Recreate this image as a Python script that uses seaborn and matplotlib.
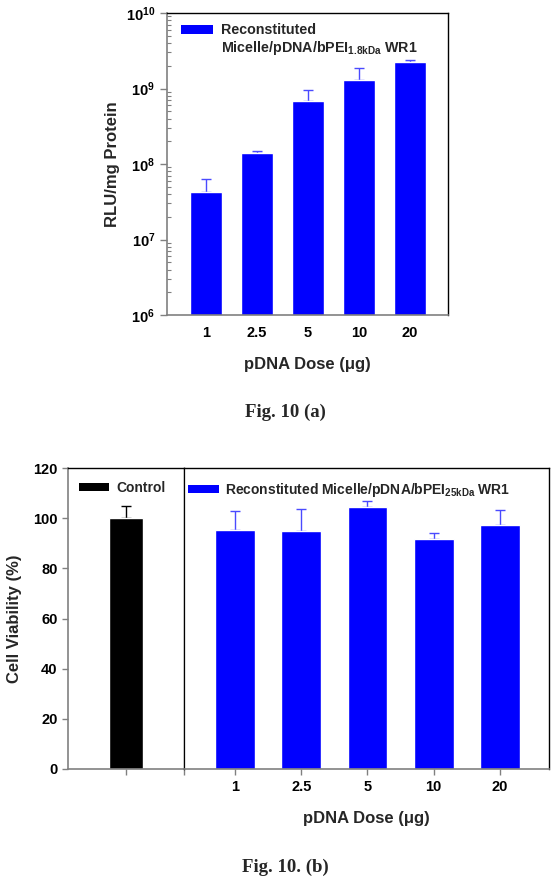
import matplotlib
matplotlib.use("Agg")
import matplotlib.pyplot as plt
import seaborn as sns
import pandas as pd
import numpy as np
from matplotlib.patches import Patch
from matplotlib.ticker import FuncFormatter, LogLocator, NullFormatter

sns.set_theme(style="white")
plt.rcParams['font.family'] = ['Liberation Sans', 'DejaVu Sans']
plt.rcParams['font.weight'] = 'bold'
plt.rcParams['mathtext.fontset'] = 'custom'
plt.rcParams['mathtext.bf'] = 'Liberation Sans:bold'
plt.rcParams['mathtext.rm'] = 'Liberation Sans:bold'
plt.rcParams['mathtext.default'] = 'bf'

# ---------------- data ----------------
doses = ["1", "2.5", "5", "10", "20"]
rlu_mean = [4.3e7, 1.4e8, 6.9e8, 1.3e9, 2.25e9]
rlu_err = [2.0e7, 0.07e8, 2.7e8, 0.55e9, 0.15e9]

control_label = ["Control"]
control_mean = [100.0]
control_err = [4.7]
viab_mean = [95.2, 94.9, 104.4, 91.7, 97.1]
viab_err = [7.8, 8.6, 2.6, 2.4, 6.1]

legend_a = ["Reconstituted", r"Micelle/pDNA/bPEI$_{\mathbf{1.8kDa}}$ WR1"]
legend_b_ctrl = "Control"
legend_b = r"Reconstituted Micelle/pDNA/bPEI$_{\mathbf{25kDa}}$ WR1"

BLUE = "#0000FF"
ERRBLUE = "#4a4aff"
GREY = "#808080"

W, H = 557, 882
fig = plt.figure(figsize=(W / 100, H / 100), dpi=100)

def style_axes(ax):
    for s in ["top", "right"]:
        ax.spines[s].set_color("black")
        ax.spines[s].set_linewidth(1.0)
    for s in ["left", "bottom"]:
        ax.spines[s].set_color(GREY)
        ax.spines[s].set_linewidth(1.2)
    ax.tick_params(axis="both", colors="black", labelsize=10.5)
    ax.tick_params(axis="both", which="both", color=GREY)

def add_errbars(ax, means, errs, color):
    xs = [p.get_x() + p.get_width() / 2 for p in ax.patches]
    lower = np.zeros(len(errs))
    ax.errorbar(xs, means, yerr=[lower, errs], fmt="none", ecolor=color,
                elinewidth=1.0, capsize=3.5, capthick=1.0, zorder=1)

# ---------------- Fig 10 (a) ----------------
ax1 = fig.add_axes([167 / W, 1 - 315 / H, (448 - 167) / W, (315 - 13) / H])
df_a = pd.DataFrame({"dose": doses, "rlu": rlu_mean})
ax1.set_yscale("log")
sns.barplot(data=df_a, x="dose", y="rlu", color=BLUE, saturation=1, width=0.63,
            errorbar=None, ax=ax1, zorder=2)
add_errbars(ax1, rlu_mean, rlu_err, ERRBLUE)
for p in ax1.patches:
    p.set_zorder(2)
ax1.set_ylim(1e6, 1e10)
ax1.set_xlim(-0.76, 4.75)
style_axes(ax1)
ax1.yaxis.set_major_locator(LogLocator(base=10, numticks=10))
ax1.yaxis.set_minor_locator(LogLocator(base=10, subs=np.arange(2, 10), numticks=20))
ax1.yaxis.set_minor_formatter(NullFormatter())
ax1.yaxis.set_major_formatter(FuncFormatter(lambda v, pos: r"$\mathbf{10^{%d}}$" % int(round(np.log10(v)))))
ax1.tick_params(axis="y", which="major", direction="out", length=5, width=1, left=True)
ax1.tick_params(axis="y", which="minor", direction="in", length=3, width=0.8, left=True)
ax1.tick_params(axis="x", which="both", bottom=False, length=0, pad=8)
ax1.set_xlabel("pDNA Dose (\u03bcg)", fontsize=12, fontweight="bold", labelpad=12)
ax1.set_ylabel("RLU/mg Protein", fontsize=12, fontweight="bold", labelpad=4)
for t in ax1.get_xticklabels() + ax1.get_yticklabels():
    t.set_fontweight("bold")
h_a = [Patch(facecolor=BLUE, edgecolor="none"), Patch(facecolor="none", edgecolor="none")]
ax1.legend(h_a, legend_a, loc="upper left", bbox_to_anchor=(0.02, 0.995), frameon=False,
           prop={"weight": "bold", "size": 10.3}, handlelength=2.2, handleheight=0.6,
           handletextpad=0.6, labelspacing=0.15, borderaxespad=0.2)

fig.text(285 / W, 1 - 412 / H, "Fig. 10 (a)", ha="center", va="center",
         family=["Liberation Serif", "DejaVu Serif"], fontweight="bold", fontsize=13.5)

# ---------------- Fig 10 (b) ----------------
bottom = 1 - 769 / H
height = (769 - 468) / H
ax2 = fig.add_axes([68 / W, bottom, (184 - 68) / W, height])
ax3 = fig.add_axes([184 / W, bottom, (549 - 184) / W, height], sharey=ax2)

df_c = pd.DataFrame({"grp": control_label, "v": control_mean})
sns.barplot(data=df_c, x="grp", y="v", color="black", saturation=1, width=0.6,
            errorbar=None, ax=ax2)
for p in ax2.patches:
    p.set_zorder(2)
add_errbars(ax2, control_mean, control_err, "black")
ax2.set_xlim(-1, 1)
ax2.set_ylim(0, 120)
style_axes(ax2)
ax2.spines["right"].set_linewidth(0.9)
ax2.set_xticks([0, 1])
ax2.set_xticklabels(["", ""])
ax2.tick_params(axis="x", bottom=True, direction="out", length=4, width=1)
ax2.tick_params(axis="y", left=True, direction="out", length=4, width=1)
ax2.set_yticks([0, 20, 40, 60, 80, 100, 120])
ax2.set_xlabel("")
ax2.set_ylabel("Cell Viability (%)", fontsize=12, fontweight="bold", labelpad=8)
for t in ax2.get_yticklabels():
    t.set_fontweight("bold")
ax2.legend([Patch(facecolor="black", edgecolor="none")], [legend_b_ctrl], loc="upper left",
           bbox_to_anchor=(0.02, 0.985), frameon=False, prop={"weight": "bold", "size": 10},
           handlelength=2.2, handleheight=0.6, handletextpad=0.5, borderaxespad=0.2)

df_b = pd.DataFrame({"dose": doses, "v": viab_mean})
sns.barplot(data=df_b, x="dose", y="v", color=BLUE, saturation=1, width=0.6,
            errorbar=None, ax=ax3)
for p in ax3.patches:
    p.set_zorder(2)
add_errbars(ax3, viab_mean, viab_err, ERRBLUE)
ax3.set_xlim(-0.77, 4.74)
ax3.set_ylim(0, 120)
style_axes(ax3)
ax3.spines["left"].set_color("black")
ax3.spines["left"].set_linewidth(0.9)
ax3.tick_params(axis="y", left=False, labelleft=False)
ax3.tick_params(axis="x", bottom=True, direction="out", length=4, width=1, pad=4)
ax3.set_ylabel("")
ax3.set_xlabel("pDNA Dose (\u03bcg)", fontsize=12, fontweight="bold", labelpad=12)
for t in ax3.get_xticklabels():
    t.set_fontweight("bold")
ax3.legend([Patch(facecolor=BLUE, edgecolor="none")], [legend_b], loc="upper left",
           bbox_to_anchor=(-0.012, 0.985), frameon=False, prop={"weight": "bold", "size": 10},
           handlelength=2.2, handleheight=0.6, handletextpad=0.5, borderaxespad=0.2)

fig.text(285 / W, 1 - 867 / H, "Fig. 10. (b)", ha="center", va="center",
         family=["Liberation Serif", "DejaVu Serif"], fontweight="bold", fontsize=13.5)

fig.savefig("out.png", dpi=100)
